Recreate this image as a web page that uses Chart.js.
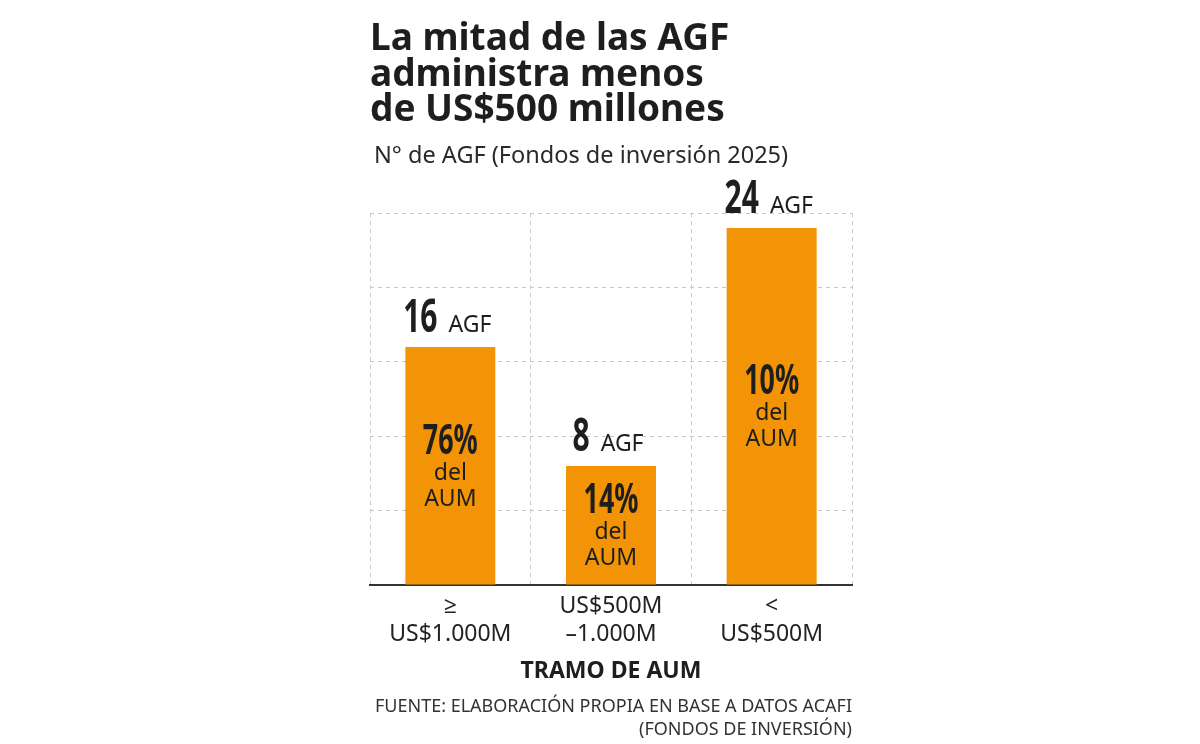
<!DOCTYPE html>
<html>
<head>
<meta charset="utf-8">
<script src="https://cdn.jsdelivr.net/npm/chart.js@4"></script>
<style>
  html, body { margin: 0; padding: 0; background: #fff; }
  #wrap { width: 1200px; height: 744px; position: relative; }
</style>
</head>
<body>
<div id="wrap"><canvas id="myChart"></canvas></div>
<script>
// data
const categories = [['≥', 'US$1.000M'], ['US$500M', '–1.000M'], ['<', 'US$500M']];
const agfCount = [16, 8, 24];
const aumShare = [76, 14, 10];
const yTicks = [0, 5, 10, 15, 20, 25];

const titleLines = ['La mitad de las AGF', 'administra menos', 'de US$500 millones'];
const subtitle = 'N° de AGF (Fondos de inversión 2025)';
const sourceLines = ['FUENTE: ELABORACIÓN PROPIA EN BASE A DATOS ACAFI', '(FONDOS DE INVERSIÓN)'];

const ORANGE = '#F29406';
const INK = '#1e1e1e';
const TXT_FONT = '"Noto Sans", "Open Sans", sans-serif';

// condensed bold numbers: squeeze a bold face horizontally
function narrowText(ctx, text, x, y, size, squeeze, align) {
  ctx.save();
  ctx.font = 'bold ' + size + 'px ' + TXT_FONT;
  const w = ctx.measureText(text).width * squeeze;
  let left = x;
  if (align === 'center') left = x - w / 2;
  ctx.translate(left, y);
  ctx.scale(squeeze, 1);
  ctx.textAlign = 'left';
  ctx.fillText(text, 0, 0);
  ctx.restore();
  return w;
}
function narrowWidth(ctx, text, size, squeeze) {
  ctx.save();
  ctx.font = 'bold ' + size + 'px ' + TXT_FONT;
  const w = ctx.measureText(text).width * squeeze;
  ctx.restore();
  return w;
}

// title, subtitle, source
const textPlugin = {
  id: 'texts',
  afterDraw(chart) {
    const ctx = chart.ctx;
    ctx.save();
    ctx.fillStyle = INK;
    ctx.textAlign = 'left';
    ctx.textBaseline = 'alphabetic';
    ctx.font = 'bold 37px ' + TXT_FONT;
    titleLines.forEach((t, i) => ctx.fillText(t, 370, 50 + i * 35.5));

    ctx.font = '23.5px ' + TXT_FONT;
    ctx.fillStyle = '#2a2a2a';
    ctx.fillText(subtitle, 374, 163);

    ctx.font = '18px ' + TXT_FONT;
    ctx.textAlign = 'right';
    ctx.fillStyle = '#333';
    sourceLines.forEach((t, i) => ctx.fillText(t, chart.chartArea.right, 712 + i * 23));
    ctx.restore();
  }
};

// labels above and inside the bars
const barLabels = {
  id: 'barLabels',
  afterDatasetsDraw(chart) {
    const ctx = chart.ctx;
    const meta = chart.getDatasetMeta(0);
    ctx.save();
    ctx.fillStyle = INK;
    ctx.textBaseline = 'alphabetic';
    meta.data.forEach((bar, i) => {
      // "16 AGF" above the bar
      const num = String(agfCount[i]);
      const gap = 11;
      const wNum = narrowWidth(ctx, num, 47, 0.64);
      ctx.font = '23px ' + TXT_FONT;
      const wAgf = ctx.measureText('AGF').width;
      const x0 = bar.x - (wNum + gap + wAgf) / 2 - 3;
      const yb = bar.y - 15;
      narrowText(ctx, num, x0, yb, 47, 0.64, 'left');
      ctx.font = '23px ' + TXT_FONT;
      ctx.textAlign = 'left';
      ctx.fillText('AGF', x0 + wNum + gap, yb);

      // share inside the bar
      const mid = (bar.y + bar.base) / 2;
      narrowText(ctx, aumShare[i] + '%', bar.x, mid - 12, 42, 0.64, 'center');
      ctx.textAlign = 'center';
      ctx.font = '23px ' + TXT_FONT;
      ctx.fillText('del', bar.x, mid + 14);
      ctx.fillText('AUM', bar.x, mid + 40);
    });
    ctx.restore();
  }
};

var ctx = document.getElementById('myChart').getContext('2d');
var myChart = new Chart(ctx, {
  type: 'bar',
  data: {
    labels: categories,
    datasets: [{
      label: 'N° de AGF',
      data: agfCount,
      backgroundColor: ORANGE,
      borderWidth: 0,
      barPercentage: 0.56,
      categoryPercentage: 1
    }]
  },
  options: {
    responsive: true,
    maintainAspectRatio: false,
    animation: false,
    devicePixelRatio: 1,
    layout: { padding: { left: 370, right: 348, top: 213, bottom: 59 } },
    plugins: {
      legend: { display: false },
      tooltip: { enabled: false }
    },
    scales: {
      x: {
        grid: {
          display: true,
          drawTicks: false,
          color: '#c8c8c8',
          lineWidth: 1
        },
        border: { display: true, color: '#333', width: 2, dash: [4, 4] },
        ticks: {
          color: '#222',
          padding: 8,
          font: { family: TXT_FONT, size: 23 }
        },
        title: {
          display: true,
          text: 'TRAMO DE AUM',
          color: INK,
          padding: 0,
          font: { family: TXT_FONT, size: 23, weight: 'bold' }
        },
        afterFit(scale) { scale.height = 100; }
      },
      y: {
        min: 0,
        max: 25,
        afterBuildTicks(scale) { scale.ticks = yTicks.map(v => ({ value: v })); },
        ticks: { display: false },
        grid: { color: '#c8c8c8', lineWidth: 1, drawTicks: false },
        border: { display: false, dash: [4, 4] }
      }
    }
  },
  plugins: [textPlugin, barLabels]
});
</script>
</body>
</html>
